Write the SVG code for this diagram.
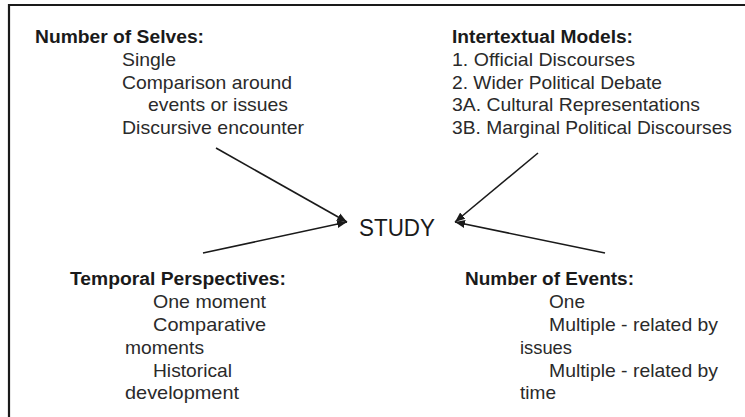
<svg xmlns="http://www.w3.org/2000/svg" width="745" height="417" viewBox="0 0 745 417">
  <style>
    text { font-family: "Liberation Sans", Arial, sans-serif; font-size: 19px; fill: #2a2a2a; }
    .h { font-weight: bold; font-size: 18px; fill: #1a1a1a; }
    .study { font-size: 23px; fill: #1a1a1a; }
    .conn { stroke: #1a1a1a; stroke-width: 1.6; fill: none; }
    .frame { stroke: #1a1a1a; stroke-width: 2.2; fill: none; }
  </style>
  <defs>
    <marker id="arrow" markerUnits="userSpaceOnUse" markerWidth="11" markerHeight="10" refX="10" refY="5" orient="auto">
      <path d="M0,1 L10,5 L0,9 z" fill="#1a1a1a"/>
    </marker>
  </defs>
  <rect width="745" height="417" fill="#ffffff"/>
  <g id="frame">
    <path class="frame" d="M9,417 L9,5 L745,5"/>
  </g>
  <g id="connectors">
    <line class="conn" x1="216" y1="148" x2="347" y2="222" marker-end="url(#arrow)"/>
    <line class="conn" x1="203" y1="253" x2="347" y2="222" marker-end="url(#arrow)"/>
    <line class="conn" x1="538" y1="153" x2="455" y2="222" marker-end="url(#arrow)"/>
    <line class="conn" x1="605" y1="253" x2="455" y2="222" marker-end="url(#arrow)"/>
  </g>
  <g id="node-selves">
    <text class="h" x="35" y="43" textLength="169" lengthAdjust="spacingAndGlyphs">Number of Selves:</text>
    <text x="122" y="66" textLength="54" lengthAdjust="spacingAndGlyphs">Single</text>
    <text x="122" y="89" textLength="170" lengthAdjust="spacingAndGlyphs">Comparison around</text>
    <text x="148" y="111" textLength="140" lengthAdjust="spacingAndGlyphs">events or issues</text>
    <text x="122" y="134" textLength="182" lengthAdjust="spacingAndGlyphs">Discursive encounter</text>
  </g>
  <g id="node-intertextual">
    <text class="h" x="452" y="43" textLength="181" lengthAdjust="spacingAndGlyphs">Intertextual Models:</text>
    <text x="452" y="66" textLength="183" lengthAdjust="spacingAndGlyphs">1. Official Discourses</text>
    <text x="452" y="89" textLength="210" lengthAdjust="spacingAndGlyphs">2. Wider Political Debate</text>
    <text x="452" y="111" textLength="248" lengthAdjust="spacingAndGlyphs">3A. Cultural Representations</text>
    <text x="452" y="134" textLength="280" lengthAdjust="spacingAndGlyphs">3B. Marginal Political Discourses</text>
  </g>
  <g id="node-study">
    <text class="study" x="359" y="236" textLength="76" lengthAdjust="spacingAndGlyphs">STUDY</text>
  </g>
  <g id="node-temporal">
    <text class="h" x="70" y="285" textLength="216" lengthAdjust="spacingAndGlyphs">Temporal Perspectives:</text>
    <text x="153" y="308" textLength="113" lengthAdjust="spacingAndGlyphs">One moment</text>
    <text x="153" y="331" textLength="113" lengthAdjust="spacingAndGlyphs">Comparative</text>
    <text x="125" y="354" textLength="79" lengthAdjust="spacingAndGlyphs">moments</text>
    <text x="153" y="377" textLength="79" lengthAdjust="spacingAndGlyphs">Historical</text>
    <text x="125" y="399" textLength="114" lengthAdjust="spacingAndGlyphs">development</text>
  </g>
  <g id="node-events">
    <text class="h" x="465" y="285" textLength="169" lengthAdjust="spacingAndGlyphs">Number of Events:</text>
    <text x="549" y="308" textLength="36" lengthAdjust="spacingAndGlyphs">One</text>
    <text x="549" y="331" textLength="169" lengthAdjust="spacingAndGlyphs">Multiple - related by</text>
    <text x="520" y="354" textLength="52" lengthAdjust="spacingAndGlyphs">issues</text>
    <text x="549" y="377" textLength="169" lengthAdjust="spacingAndGlyphs">Multiple - related by</text>
    <text x="520" y="399" textLength="36" lengthAdjust="spacingAndGlyphs">time</text>
  </g>
</svg>
